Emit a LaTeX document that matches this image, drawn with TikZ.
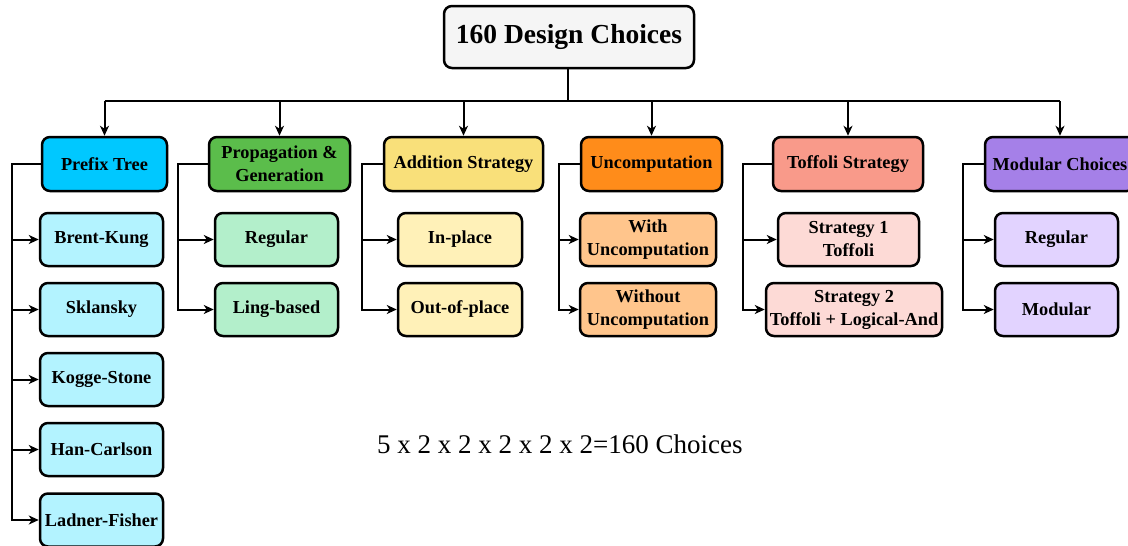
\documentclass[tikz,border=0pt]{standalone}
\usepackage{fontspec}
\setmainfont{Liberation Serif}
\usetikzlibrary{arrows.meta}
\definecolor{rootc}{HTML}{F5F5F5}
\definecolor{ptc}{HTML}{00C8FF}
\definecolor{ptl}{HTML}{B3F3FF}
\definecolor{pgc}{HTML}{5BBD4B}
\definecolor{pgl}{HTML}{B3EFCB}
\definecolor{asc}{HTML}{F9E07A}
\definecolor{asl}{HTML}{FFF1B8}
\definecolor{unc}{HTML}{FF8C1A}
\definecolor{unl}{HTML}{FFC58C}
\definecolor{tsc}{HTML}{F99A8A}
\definecolor{tsl}{HTML}{FDDAD6}
\definecolor{mcc}{HTML}{A580E8}
\definecolor{mcl}{HTML}{E2D3FF}
\tikzset{
  box/.style={draw=black, line width=2.5pt, rounded corners=8pt, inner sep=0pt,
    align=center, font=\fontsize{18.3}{23}\selectfont\bfseries, text=black},
  catbox/.style={box, minimum height=54pt},
  kidbox/.style={box, minimum height=53pt},
  conn/.style={line width=2pt},
  arr/.style={conn, -{Stealth[length=10pt,width=9pt,inset=3pt]}}
}
\begin{document}
\begin{tikzpicture}[x=1pt,y=-1pt]
\useasboundingbox (0,0) rectangle (1128,546);
% root
\node[box, fill=rootc, minimum width=250pt, minimum height=62pt,
  font=\fontsize{27.5}{30}\selectfont\bfseries] (root) at (569,37) {160 Design Choices};
% categories
\node[catbox, fill=ptc, minimum width=125pt] (pt) at (104.5,164) {Prefix Tree};
\node[catbox, fill=pgc, minimum width=141pt] (pg) at (279.5,164) {Propagation \&\\Generation};
\node[catbox, fill=asc, minimum width=159pt] (as) at (463.5,164) {Addition Strategy};
\node[catbox, fill=unc, minimum width=141pt] (un) at (651.5,164) {Uncomputation};
\node[catbox, fill=tsc, minimum width=150pt] (ts) at (848,164) {Toffoli Strategy};
\node[catbox, fill=mcc, minimum width=150pt] (mc) at (1060,164) {Modular Choices};
% prefix tree children
\node[kidbox, fill=ptl, minimum width=123pt] (bk) at (101.5,239.5) {Brent-Kung};
\node[kidbox, fill=ptl, minimum width=123pt] (sk) at (101.5,309.5) {Sklansky};
\node[kidbox, fill=ptl, minimum width=123pt] (ks) at (101.5,379.5) {Kogge-Stone};
\node[kidbox, fill=ptl, minimum width=123pt] (hc) at (101.5,449.5) {Han-Carlson};
\node[kidbox, fill=ptl, minimum width=123pt] (lf) at (101.5,520) {Ladner-Fisher};
% propagation children
\node[kidbox, fill=pgl, minimum width=123pt] (pg1) at (276.5,239.5) {Regular};
\node[kidbox, fill=pgl, minimum width=123pt] (pg2) at (276.5,309.5) {Ling-based};
% addition children
\node[kidbox, fill=asl, minimum width=124pt] (as1) at (460,239.5) {In-place};
\node[kidbox, fill=asl, minimum width=124pt] (as2) at (460,309.5) {Out-of-place};
% uncomputation children
\node[kidbox, fill=unl, minimum width=136pt] (un1) at (648,239.5) {With\\Uncomputation};
\node[kidbox, fill=unl, minimum width=136pt] (un2) at (648,309.5) {Without\\Uncomputation};
% toffoli children
\node[kidbox, fill=tsl, minimum width=141pt] (ts1) at (848.5,239.5) {Strategy 1\\Toffoli};
\node[kidbox, fill=tsl, minimum width=176pt] (ts2) at (854,309.5) {Strategy 2\\Toffoli + Logical-And};
% modular children
\node[kidbox, fill=mcl, minimum width=123pt] (mc1) at (1056.5,239.5) {Regular};
\node[kidbox, fill=mcl, minimum width=123pt] (mc2) at (1056.5,309.5) {Modular};
% formula
\node[anchor=base west, inner sep=0pt, font=\fontsize{27}{30}\selectfont] (eq) at (377,453)
  {5 x 2 x 2 x 2 x 2 x 2=160 Choices};
% bus
\coordinate (busc) at (568,101);
\coordinate (busl) at (104.5,101);
\coordinate (busr) at (1060,101);
\draw[conn] (root.south -| busc) -- (busc);
\draw[conn] (busl) -- (busr);
\foreach \c in {pt,pg,as,un,ts,mc}{
  \draw[arr] (busc -| \c.north) -- (\c.north);
}
% side rails
\coordinate (ptx) at (12.3,164);
\coordinate (pgx) at (178,164);
\coordinate (asx) at (362,164);
\coordinate (unx) at (559,164);
\coordinate (tsx) at (743,164);
\coordinate (mcx) at (963,164);
\foreach \k in {bk,sk,ks,hc,lf}{
  \draw[arr] (pt.west) -- (ptx) |- (\k.west);
}
\foreach \k in {pg1,pg2}{ \draw[arr] (pg.west) -- (pgx) |- (\k.west); }
\foreach \k in {as1,as2}{ \draw[arr] (as.west) -- (asx) |- (\k.west); }
\foreach \k in {un1,un2}{ \draw[arr] (un.west) -- (unx) |- (\k.west); }
\foreach \k in {ts1,ts2}{ \draw[arr] (ts.west) -- (tsx) |- (\k.west); }
\foreach \k in {mc1,mc2}{ \draw[arr] (mc.west) -- (mcx) |- (\k.west); }
\end{tikzpicture}
\end{document}
